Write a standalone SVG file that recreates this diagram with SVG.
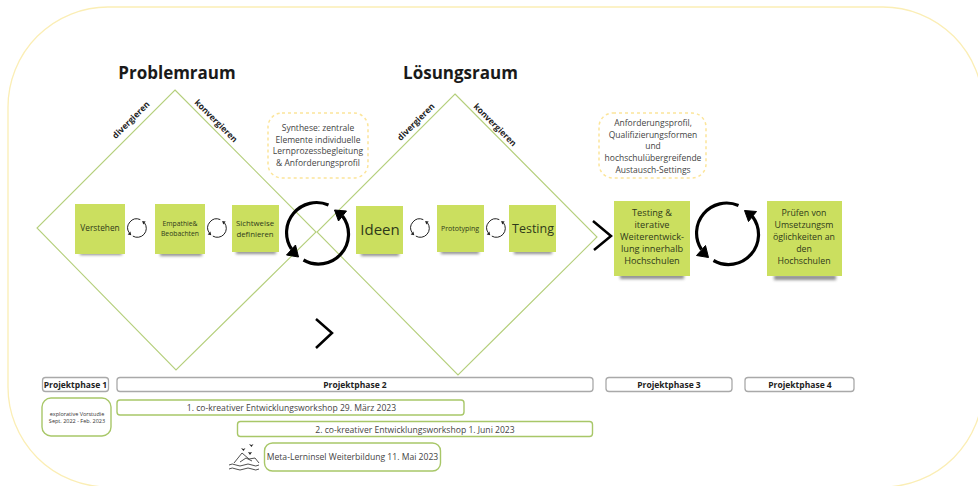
<svg xmlns="http://www.w3.org/2000/svg" width="978" height="486" viewBox="0 0 978 486">
<style>
text{font-family:"Open Sans","Noto Sans","Liberation Sans",sans-serif;fill:#333;text-anchor:middle}
.h{font-size:17px;font-weight:700;fill:#1a1a1a}
.d{font-size:8.500px;font-weight:700;fill:#222}
.n{fill:#cbdf5f}
.sh{fill:#444;opacity:.6;filter:url(#b)}
.t{fill:#2f3a1a}
.dash{fill:#fff;stroke:#fce59a;stroke-width:1.5;stroke-dasharray:3 3}
.syn{font-size:8.500px;fill:#444}
.ph{fill:#fff;stroke:#a9a9a9;stroke-width:1.3}
.pht{font-size:8.500px;font-weight:700;fill:#222}
.g{fill:#fff;stroke:#a8c768;stroke-width:1.4}
.wt{font-size:8.600px;fill:#444}
.dia{fill:none;stroke:#b5cf7c;stroke-width:1.1}
.c1{fill:none;stroke:#222;stroke-width:1}
.c2{fill:none;stroke:#000;stroke-width:3.200}
</style>
<defs>
<filter id="b" x="-20%" y="-100%" width="140%" height="300%"><feGaussianBlur stdDeviation="1.6"/></filter>
<g id="cs"><path class="c1" d="M3.300-8.400A9 9 0 0 0-7.800 4.800M-4.200 8.100A9 9 0 0 0 7.500-5.100"/><path d="M-5.700 7.200L-9.300 6.600-6.600 3.600ZM5.100-6.900L8.700-6.600 6.300-3.600Z" fill="#222"/></g>
<g id="cl"><path class="c2" d="M11-28A30 30 0 0 0-26 16M-14 27A30 30 0 0 0 25-17"/><path d="M-19 24L-31 22-22 12ZM17-23L29-22 21-12Z" fill="#000" stroke="#000" stroke-width="1" stroke-linejoin="round"/></g>
</defs>
<rect id="frame" x="8" y="7" width="975" height="480" rx="100" ry="100" fill="none" stroke="#fbeeb5" stroke-width="1.300"/>
<g id="connectors">
<path class="dia" d="M175 90L316 232 176 370 37 228Z"/>
<path class="dia" d="M455 94L597 237 458 375 317 232Z"/>
<path d="M593 221L611 236 594 250" fill="none" stroke="#000" stroke-width="2.500"/>
<path d="M316 319L332 333 316 348" fill="none" stroke="#000" stroke-width="2.500"/>
<use href="#cs" x="137" y="228"/><use href="#cs" x="217" y="228"/><use href="#cs" x="420" y="228"/><use href="#cs" x="496" y="228"/>
<use href="#cl" x="317.500" y="233"/>
<use href="#cl" x="727.500" y="233.500"/>
</g>
<g id="problemraum"><text class="h" x="177" y="79">Problemraum</text></g>
<g id="loesungsraum"><text class="h" x="460.500" y="79">Lösungsraum</text></g>
<g id="labels">
<text class="d" transform="translate(133 122) rotate(-45)">divergieren</text>
<text class="d" transform="translate(214 123) rotate(45)">konvergieren</text>
<text class="d" transform="translate(418 124) rotate(-45)">divergieren</text>
<text class="d" transform="translate(493 127) rotate(45)">konvergieren</text>
</g>
<g id="verstehen"><rect class="sh" x="80" y="251" width="42" height="4"/><rect class="n" x="75" y="204" width="50" height="50"/><text class="t" x="100" y="231" font-size="8.300">Verstehen</text></g>
<g id="empathie"><rect class="sh" x="160" y="252" width="42" height="4"/><rect class="n" x="155" y="204" width="50" height="50"/><text class="t" x="180" y="226" font-size="6.800">Empathie&amp;</text><text class="t" x="180" y="235.500" font-size="6.800">Beobachten</text></g>
<g id="sichtweise"><rect class="sh" x="236" y="250" width="40" height="4"/><rect class="n" x="232" y="205" width="47" height="47"/><text class="t" x="255" y="226" font-size="7.800">Sichtweise</text><text class="t" x="255" y="236.500" font-size="7.800">definieren</text></g>
<g id="ideen"><rect class="sh" x="361" y="252" width="38" height="4"/><rect class="n" x="356" y="206" width="47" height="48"/><text class="t" x="380" y="235" font-size="15">Ideen</text></g>
<g id="prototyping"><rect class="sh" x="441" y="250" width="38" height="4"/><rect class="n" x="437" y="205" width="47" height="47"/><text class="t" x="460" y="231" font-size="7">Prototyping</text></g>
<g id="testing"><rect class="sh" x="514" y="250" width="38" height="4"/><rect class="n" x="509" y="205" width="47" height="47"/><text class="t" x="533" y="233" font-size="12.500">Testing</text></g>
<g id="testing-iterativ"><rect class="sh" x="620" y="274" width="64" height="5"/><rect class="n" x="614" y="201" width="76" height="75"/><g font-size="9.200"><text class="t" x="652" y="216">Testing &amp;</text><text class="t" x="652" y="228">iterative</text><text class="t" x="652" y="240">Weiterentwick-</text><text class="t" x="652" y="252">lung innerhalb</text><text class="t" x="652" y="264">Hochschulen</text></g></g>
<g id="pruefen"><rect class="sh" x="774" y="275" width="62" height="5"/><rect class="n" x="767" y="201" width="75" height="75"/><g font-size="8.800"><text class="t" x="804" y="216">Prüfen von</text><text class="t" x="804" y="228">Umsetzungsm</text><text class="t" x="804" y="240">öglichkeiten an</text><text class="t" x="804" y="252">den</text><text class="t" x="804" y="264">Hochschulen</text></g></g>
<g id="synthese"><rect class="dash" x="268" y="113" width="100" height="65" rx="14"/><text class="syn" x="318" y="131">Synthese: zentrale</text><text class="syn" x="318" y="142.700">Elemente individuelle</text><text class="syn" x="318" y="154.400">Lernprozessbegleitung</text><text class="syn" x="318" y="166">&amp; Anforderungsprofil</text></g>
<g id="anforderung"><rect class="dash" x="599" y="113" width="107" height="65" rx="14"/><text class="syn" x="653" y="126">Anforderungsprofil,</text><text class="syn" x="653" y="137.700">Qualifizierungsformen</text><text class="syn" x="653" y="149.400">und</text><text class="syn" x="653" y="161.100">hochschulübergreifende</text><text class="syn" x="653" y="172.800">Austausch-Settings</text></g>
<g id="phase1"><rect class="ph" x="42.500" y="377.500" width="66" height="14" rx="3"/><text class="pht" x="75.500" y="388">Projektphase 1</text></g>
<g id="phase2"><rect class="ph" x="117" y="377.500" width="476" height="14" rx="3"/><text class="pht" x="355" y="388">Projektphase 2</text></g>
<g id="phase3"><rect class="ph" x="606" y="377.500" width="126" height="14" rx="3"/><text class="pht" x="669" y="388">Projektphase 3</text></g>
<g id="phase4"><rect class="ph" x="745" y="377.500" width="109" height="14" rx="3"/><text class="pht" x="800" y="388">Projektphase 4</text></g>
<g id="vorstudie"><rect class="g" x="42" y="398" width="69" height="38" rx="9"/><text x="77" y="416" font-size="5.500" fill="#444">explorative Vorstudie</text><text x="77" y="423" font-size="5.500" fill="#444">Sept. 2022 - Feb. 2023</text></g>
<g id="workshop1"><rect class="g" x="117" y="400" width="347" height="15" rx="3"/><text class="wt" x="291.500" y="411">1. co-kreativer Entwicklungsworkshop 29. März 2023</text></g>
<g id="workshop2"><rect class="g" x="237.500" y="421.500" width="355" height="15" rx="3"/><text class="wt" x="415" y="432.500">2. co-kreativer Entwicklungsworkshop 1. Juni 2023</text></g>
<g id="insel"><g fill="none" stroke="#222" stroke-width=".8"><path d="M234 463L242 453 249 459 255 458 259 463M240 462L246 458 252 461"/><path d="M229 465Q232 463 236 465T244 465 252 465 259 465M229 469Q232 467 236 469T244 469 252 469 259 469"/></g><path d="M241 448l2.500 1 2-1-2 3ZM249 444l2.500 1 2-1-2 3ZM248 452l2 .500 2-.500-2 3Z" fill="#222"/></g>
<g id="lerninsel"><rect class="g" x="264.500" y="443" width="176" height="28" rx="8"/><text class="wt" x="352.500" y="460">Meta-Lerninsel Weiterbildung 11. Mai 2023</text></g>
</svg>
